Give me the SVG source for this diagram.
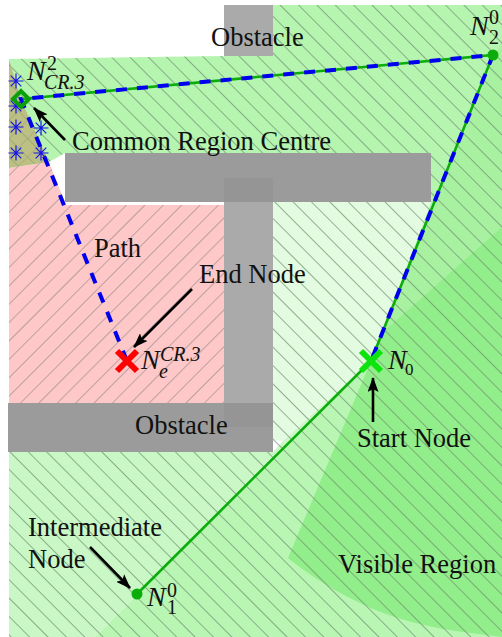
<svg xmlns="http://www.w3.org/2000/svg" width="502" height="637" viewBox="0 0 502 637">
<style>
text{font-family:"Liberation Serif","Times New Roman",serif;fill:#111}
.t{font-size:26.500px}
.m{font-size:28px;font-style:italic}
.s{font-size:20px;font-style:italic}
.n{font-size:20px}
.g{stroke:#0aad0a;stroke-width:2.600;fill:none}
.b{stroke:#0000ee;stroke-width:4;fill:none;stroke-dasharray:11 10}
.a{stroke:#000;stroke-width:2.600;fill:none;marker-end:url(#ah)}
.st{stroke:#1515e8;stroke-width:1.200;fill:none}
</style>
<defs>
<pattern id="hg" width="13" height="13" patternUnits="userSpaceOnUse" patternTransform="rotate(45 0 0)"><line x1="0" y1="0.5" x2="13" y2="0.5" stroke="#6f8f6f" stroke-width="0.700"/></pattern>
<pattern id="hr" width="13" height="13" patternUnits="userSpaceOnUse" patternTransform="rotate(-45 0 0)"><line x1="0" y1="0.5" x2="13" y2="0.5" stroke="#9f8f8f" stroke-width="0.700"/></pattern>
<marker id="ah" markerWidth="15" markerHeight="11" refX="14" refY="5.500" orient="auto" markerUnits="userSpaceOnUse" viewBox="0 0 15 11"><path d="M0 0L15 5.500L0 11L3 5.500Z" fill="#000"/></marker>
<g id="star"><path class="st" d="M-7.500 0H7.500M0 -7.500V7.500M-5.300 -5.300L5.300 5.300M-5.300 5.300L5.300 -5.300"/></g>
</defs>
<g id="regions">
<rect x="0" y="0" width="502" height="637" fill="#fff"/>
<path id="r-top" fill="#b6f5b0" d="M9 59L150 57L224 56V5H502V225L371 361L431 202H65V153L49 162L21 99Z"/>
<path id="r-vlight" fill="#e3fbe0" d="M273 202H431L371 361L283 441L273 440Z"/>
<path id="r-low" fill="#c9f8c6" d="M9 452H273L283 441L371 361L95 637H9Z"/>
<path id="r-mid" fill="#b9f6b4" d="M371 361L95 637H502V200Z"/>
<path id="r-upper" fill="#a7f1a1" d="M371 361L502 40V260Z"/>
<path id="r-dark" fill="#92ee8a" d="M371 361L382 333L502 227V637C460 632 420 627 383 613C350 600 318 582 288 558Z"/>
<path id="r-pink" fill="#ffc8c8" d="M9 168L49 162L66 205H224V404H9Z"/>
<path id="r-olive" fill="#bcc082" d="M9 59L21 99L49 162L9 168Z"/>
<path fill="url(#hg)" d="M9 59L150 57L224 56V5H502V637H9V452H273V202H65V153L49 162L21 99Z"/>
<path fill="url(#hr)" d="M9 168L49 162L66 205H224V404H9Z"/>
<path fill="url(#hr)" fill-opacity="0.6" d="M9 59L21 99L49 162L9 168Z"/>
<path fill="url(#hg)" fill-opacity="0.6" d="M9 59L21 99L49 162L9 168Z"/>
</g>
<g id="obstacles">
<rect x="224" y="5" width="49" height="51" fill="#aaa"/>
<rect x="224" y="178" width="49" height="249" fill="#aaa"/>
<rect x="65" y="153" width="366" height="49" fill="#9b9b9b"/>
<rect x="8" y="403" width="265" height="49" fill="#9b9b9b"/>
<rect x="224" y="178" width="49" height="24" fill="#959595"/>
<rect x="224" y="403" width="49" height="24" fill="#959595"/>
</g>
<g id="connectors">
<path class="g" d="M137 594L371 361L493 55L21 99"/>
<path class="b" d="M127 361L21 99L493 55L371 361"/>
<path class="a" d="M65 140L34 108"/>
<path class="a" d="M192 289L134 347"/>
<path class="a" d="M373 422V378"/>
<path class="a" d="M90 547L130 588"/>
</g>
<g id="stars">
<use href="#star" x="16" y="81"/><use href="#star" x="16" y="106"/><use href="#star" x="16" y="127"/><use href="#star" x="41" y="128"/><use href="#star" x="16" y="153"/><use href="#star" x="41" y="153"/>
</g>
<g id="node-cr"><path d="M13 99L21 91L29 99L21 107Z" fill="none" stroke="#0aa00a" stroke-width="4"/>
<text class="m" x="27" y="80">N</text><text class="n" x="47" y="70">2</text><text class="s" x="44" y="89">CR.3</text></g>
<g id="node-n2"><circle cx="493" cy="55" r="5.500" fill="#0aad0a"/>
<text class="m" x="470" y="35">N</text><text class="n" x="489" y="24">0</text><text class="n" x="489" y="44">2</text></g>
<g id="node-n0"><path d="M361 351L381 371M381 351L361 371" stroke="#0de40d" stroke-width="6" fill="none"/>
<text class="m" x="388" y="369">N</text><text class="n" x="405" y="375" style="font-size:17px">0</text></g>
<g id="node-n1"><circle cx="137" cy="594" r="5.500" fill="#0aad0a"/>
<text class="m" x="147" y="606">N</text><text class="n" x="167" y="597">0</text><text class="n" x="167" y="614">1</text></g>
<g id="node-ne"><path d="M117 351L137 371M137 351L117 371" stroke="#f00" stroke-width="6" fill="none"/>
<text class="m" x="141" y="369">N</text><text class="s" x="160" y="361">CR.3</text><text class="s" x="159" y="378">e</text></g>
<g id="labels">
<text class="t" x="211" y="46">Obstacle</text>
<text class="t" x="72" y="150">Common Region Centre</text>
<text class="t" x="94" y="257">Path</text>
<text class="t" x="199" y="283">End Node</text>
<text class="t" x="135" y="434">Obstacle</text>
<text class="t" x="357" y="447">Start Node</text>
<text class="t" x="28" y="536">Intermediate</text>
<text class="t" x="28" y="568">Node</text>
<text class="t" x="338" y="573">Visible Region</text>
</g>
</svg>
